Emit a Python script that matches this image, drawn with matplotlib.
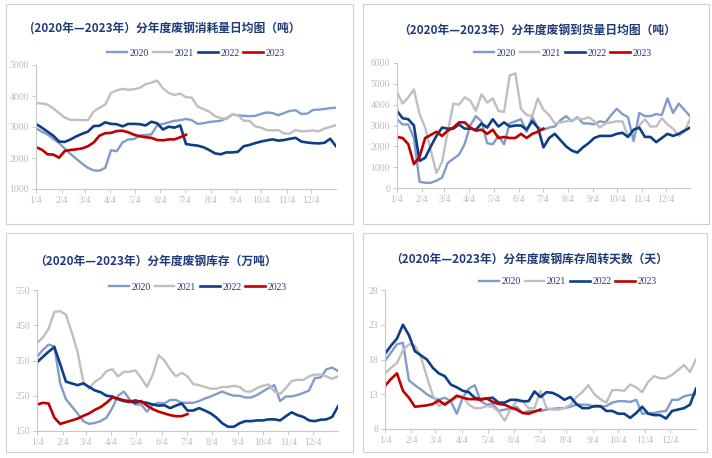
import matplotlib
matplotlib.use("Agg")
import matplotlib.pyplot as plt
from matplotlib.patches import Rectangle
import numpy as np

W, H = 712, 458
DPI = 100

tick_labels = ["1/4", "2/4", "3/4", "4/4", "5/4", "6/4", "7/4", "8/4", "9/4", "10/4", "11/4", "12/4"]
tick_days = [0, 31, 59, 90, 120, 151, 181, 212, 243, 273, 304, 334]
years = ["2020", "2021", "2022", "2023"]

# Panel 1: consumption (tons/day)
cons_2020 = [2960, 2850, 2760, 2620, 2480, 2300, 2130, 1970, 1820, 1680, 1600, 1590, 1680, 2250, 2220,
             2500, 2600, 2610, 2730, 2740, 2760, 3050, 3100, 3150, 3200, 3220, 3260, 3220, 3100, 3120,
             3160, 3180, 3200, 3280, 3400, 3380, 3360, 3350, 3360, 3420, 3470, 3450, 3380, 3450, 3520,
             3540, 3420, 3430, 3550, 3560, 3580, 3610, 3620]
cons_2021 = [3770, 3760, 3720, 3600, 3450, 3300, 3230, 3230, 3220, 3220, 3500, 3620, 3720, 4100, 4180,
             4230, 4200, 4220, 4260, 4380, 4430, 4500, 4250, 4100, 4030, 4080, 3960, 3950, 3660, 3580,
             3500, 3350, 3290, 3260, 3400, 3380, 3200, 3200, 3020, 2980, 2900, 2890, 2900, 2790, 2790,
             2900, 2860, 2870, 2890, 2860, 2950, 3000, 3060]
cons_2022 = [3100, 2980, 2850, 2720, 2530, 2520, 2600, 2700, 2780, 2850, 3030, 3040, 3150, 3100, 3090,
             3020, 3100, 3100, 3090, 3050, 3170, 3120, 2920, 3010, 2980, 3050, 2450, 2420, 2400, 2350,
             2260, 2150, 2120, 2180, 2180, 2200, 2380, 2420, 2480, 2530, 2570, 2600, 2560, 2580, 2620,
             2650, 2530, 2500, 2480, 2470, 2490, 2620, 2380]
cons_2023 = [2350, 2270, 2120, 2110, 2010, 2230, 2260, 2280, 2310, 2380, 2500, 2720, 2800, 2810, 2870,
             2880, 2830, 2750, 2700, 2670, 2650, 2580, 2570, 2600, 2600, 2670, 2750]

# Panel 2: arrivals (tons/day)
arr_2020 = [3300, 3050, 3050, 2400, 300, 250, 250, 350, 500, 1200, 1400, 1600, 2100, 3000, 3450,
            3200, 2150, 2100, 2500, 2100, 3100, 3200, 3300, 2700, 3400, 2900, 2800, 2900, 2950, 3250,
            3450, 3200, 3400, 3100, 3100, 3050, 3200, 3150, 3500, 3800, 3550, 3400, 2250, 3600, 3450,
            3450, 3550, 3500, 4300, 3600, 4050, 3750, 3450]
arr_2021 = [4600, 4050, 4350, 4730, 3550, 2900, 1800, 720, 1250, 2700, 4050, 4000, 4350, 4200, 3700,
            4500, 4100, 4300, 3700, 3650, 5400, 5500, 3800, 3500, 3450, 4300, 3750, 3500, 3100, 3150,
            3200, 3250, 3350, 3300, 3400, 3200, 2900, 3100, 3150, 3200, 3200, 2500, 2700, 3000, 3300,
            2950, 2950, 3350, 3050, 2850, 2500, 2700, 3300]
arr_2022 = [3700, 3350, 3300, 3000, 1300, 1450, 2000, 2500, 2900, 2850, 2850, 3050, 2850, 2850, 2800,
            3100, 2900, 3300, 2950, 3150, 2950, 3000, 3000, 2800, 3200, 2900, 1950, 2400, 2600, 2300,
            2000, 1800, 1700, 1950, 2150, 2400, 2500, 2500, 2500, 2600, 2650, 2450, 2800, 2900, 2450,
            2450, 2200, 2400, 2600, 2500, 2600, 2750, 2900]
arr_2023 = [2450, 2400, 2100, 1150, 1500, 2400, 2550, 2700, 2500, 2750, 2900, 3150, 3150, 2900, 2750,
            2800, 2600, 2800, 2400, 2450, 2400, 2400, 2600, 2400, 2600, 2700, 2850]

# Panel 3: inventory (10k tons)
inv_2020 = [360, 380, 395, 390, 285, 240, 220, 200, 178, 170, 173, 178, 188, 215, 250, 262, 240, 225,
            225, 205, 225, 230, 228, 238, 238, 230, 230, 230, 235, 242, 248, 255, 262, 255, 250, 250,
            245, 245, 252, 262, 272, 280, 235, 248, 248, 252, 258, 265, 300, 302, 325, 330, 320]
inv_2021 = [400, 415, 440, 488, 490, 480, 430, 375, 290, 270, 290, 300, 320, 325, 305, 318, 318, 322,
            300, 275, 310, 365, 350, 325, 305, 315, 305, 283, 280, 275, 270, 270, 275, 275, 278, 275,
            262, 262, 272, 278, 282, 262, 255, 272, 292, 295, 295, 305, 310, 310, 305, 298, 305]
inv_2022 = [345, 360, 375, 388, 340, 290, 285, 280, 285, 275, 265, 260, 250, 248, 240, 235, 232, 237,
            232, 230, 225, 222, 223, 215, 222, 228, 208, 208, 215, 208, 200, 188, 172, 162, 162, 172,
            178, 178, 180, 180, 183, 183, 180, 192, 203, 195, 190, 180, 178, 182, 183, 190, 220]
inv_2023 = [225, 230, 228, 188, 170, 175, 180, 185, 193, 200, 210, 218, 230, 245, 242, 237, 235, 230,
            235, 222, 212, 205, 200, 195, 192, 192, 198]

# Panel 4: inventory turnover days
days_2020 = [17.8, 19.0, 20.2, 20.4, 15.0, 14.3, 13.7, 13.0, 12.5, 12.2, 12.5, 12.0, 10.2, 12.5, 13.8,
             14.3, 12.0, 11.5, 11.6, 10.6, 10.8, 10.9, 11.2, 10.3, 10.6, 10.6, 10.6, 10.8, 10.9, 11.0,
             11.0, 11.2, 11.5, 11.5, 11.5, 11.2, 11.2, 11.3, 11.8, 12.0, 12.0, 11.9, 12.2, 10.2, 10.3,
             10.3, 10.5, 10.6, 12.2, 12.2, 12.7, 12.9, 13.0]
days_2021 = [16.0, 16.8, 17.5, 19.3, 20.2, 20.0, 18.4, 15.5, 12.8, 11.3, 11.8, 12.0, 12.5, 12.8, 11.5,
             11.0, 11.0, 11.3, 11.2, 10.5, 9.2, 10.8, 12.0, 12.0, 11.0, 11.0, 13.5, 11.0, 10.8, 10.8,
             11.0, 11.5, 12.6, 13.3, 14.3, 13.0, 12.3, 11.8, 13.6, 13.6, 13.5, 14.4, 14.0, 13.3, 14.8,
             15.6, 15.3, 15.3, 15.8, 16.5, 17.2, 16.2, 18.0]
days_2022 = [18.8, 20.0, 21.0, 23.0, 21.5, 19.2, 18.6, 18.0, 16.8, 16.0, 15.6, 14.4, 14.0, 13.5, 13.3,
             12.5, 12.3, 12.4, 12.5, 11.8, 11.8, 12.2, 12.2, 12.0, 12.0, 13.4, 12.6, 13.3, 13.2, 12.8,
             12.2, 12.6, 11.6, 11.0, 11.0, 11.3, 11.3, 10.6, 10.6, 10.2, 10.2, 9.6, 10.3, 11.2, 10.2,
             10.0, 10.0, 9.5, 10.6, 10.8, 11.0, 11.5, 13.8]
days_2023 = [14.2, 15.2, 16.0, 13.5, 12.5, 11.2, 11.3, 11.4, 11.6, 12.1, 11.5, 12.1, 12.8, 12.5, 12.3,
             12.3, 12.2, 12.4, 11.9, 11.6, 11.5, 11.1, 10.8, 10.3, 10.2, 10.5, 10.8]

colors = ["#7f9ccb", "#bfbfbf", "#0d3f86", "#c00000"]
widths = [1.7, 1.7, 1.9, 1.9]

TITLE_COLOR = "#1f3a78"
TICK_COLOR = "#bcbcbc"
SPINE_COLOR = "#c8c8c8"
CJK = ["Noto Sans CJK SC", "DejaVu Sans"]
SERIF = ["Liberation Serif", "DejaVu Serif"]

panels = [
    dict(title="(2020年—2023年）分年度废钢消耗量日均图（吨）",
         series=[cons_2020, cons_2021, cons_2022, cons_2023],
         ylim=(1000, 5000), yticks=[1000, 2000, 3000, 4000, 5000],
         box=(6, 4, 353, 224), ax=(36, 65, 336, 189),
         title_xy=(30, 29), leg=(196, 53)),
    dict(title="（2020年—2023年）分年度废钢到货量日均图（吨）",
         series=[arr_2020, arr_2021, arr_2022, arr_2023],
         ylim=(0, 6000), yticks=[0, 1000, 2000, 3000, 4000, 5000, 6000],
         box=(363, 4, 709, 224), ax=(397, 63, 690, 188),
         title_xy=(398, 30), leg=(563, 53)),
    dict(title="（2020年—2023年）分年度废钢库存（万吨）",
         series=[inv_2020, inv_2021, inv_2022, inv_2023],
         ylim=(150, 550), yticks=[150, 250, 350, 450, 550],
         box=(6, 233, 353, 452), ax=(37, 290, 338, 431),
         title_xy=(34, 261), leg=(198, 287)),
    dict(title="（2020年—2023年）分年度废钢库存周转天数（天）",
         series=[days_2020, days_2021, days_2022, days_2023],
         ylim=(8, 28), yticks=[8, 13, 18, 23, 28],
         box=(363, 233, 707, 452), ax=(385, 290, 696, 429),
         title_xy=(390, 259), leg=(568, 282)),
]

fig = plt.figure(figsize=(W / DPI, H / DPI), dpi=DPI)
fig.patch.set_facecolor("white")

for p in panels:
    x0, y0, x1, y1 = p["box"]
    fig.patches.append(Rectangle((x0 / W, 1 - y1 / H), (x1 - x0) / W, (y1 - y0) / H,
                                 transform=fig.transFigure, fill=False,
                                 edgecolor="#d0d0d0", linewidth=0.8))
    ax0, ay0, ax1, ay1 = p["ax"]
    ax = fig.add_axes([ax0 / W, 1 - ay1 / H, (ax1 - ax0) / W, (ay1 - ay0) / H])
    lines = []
    for vals, c, lw, lab in zip(p["series"], colors, widths, years):
        xs = np.arange(len(vals)) * 7
        ln, = ax.plot(xs, vals, color=c, linewidth=lw, label=lab, solid_joinstyle="round")
        lines.append(ln)
    ax.set_xlim(0, 7 * 52)
    ax.set_ylim(*p["ylim"])
    ax.set_yticks(p["yticks"])
    ax.set_yticklabels([str(v) for v in p["yticks"]])
    ax.set_xticks(tick_days)
    ax.set_xticklabels(tick_labels)
    for s in ["top", "right"]:
        ax.spines[s].set_visible(False)
    for s in ["left", "bottom"]:
        ax.spines[s].set_color(SPINE_COLOR)
        ax.spines[s].set_linewidth(0.8)
    ax.tick_params(axis="both", colors=SPINE_COLOR, length=3, width=0.7, labelsize=7,
                   labelcolor=TICK_COLOR, pad=2)
    for lbl in ax.get_xticklabels() + ax.get_yticklabels():
        lbl.set_fontfamily(SERIF)
    ax.set_facecolor("none")
    tx, ty = p["title_xy"]
    fig.text(tx / W, 1 - ty / H, p["title"], fontsize=8.5, fontweight="bold",
             color=TITLE_COLOR, family=CJK, ha="left", va="center")
    lx, ly = p["leg"]
    leg = ax.legend(handles=lines, loc="center", bbox_to_anchor=(lx / W, 1 - ly / H),
                    bbox_transform=fig.transFigure, ncol=4, frameon=False,
                    handlelength=2.0, handletextpad=0.3, columnspacing=0.4,
                    prop={"family": SERIF, "size": 7})
    for t in leg.get_texts():
        t.set_color(TITLE_COLOR)

fig.savefig("out.png", dpi=DPI, facecolor="white")
